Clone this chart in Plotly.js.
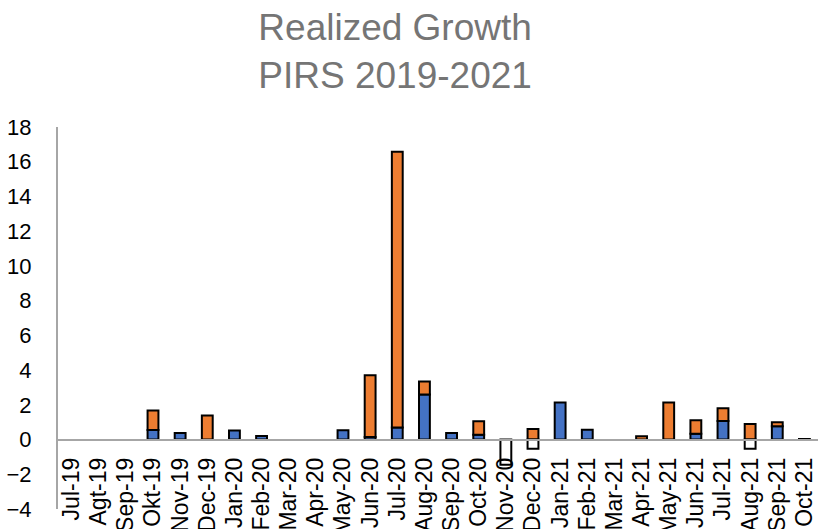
<!DOCTYPE html>
<html>
<head>
<meta charset="utf-8">
<script src="https://cdn.plot.ly/plotly-3.0.1.min.js"></script>
<style>html,body{margin:0;padding:0;background:#fff;}#chart{width:818px;height:529px;}</style>
</head>
<body>
<div id="chart"></div>
<script>
var months = ["Jul-19","Agt-19","Sep-19","Okt-19","Nov-19","Dec-19","Jan-20","Feb-20","Mar-20","Apr-20","May-20","Jun-20","Jul-20","Aug-20","Sep-20","Oct-20","Nov-20","Dec-20","Jan-21","Feb-21","Mar-21","Apr-21","May-21","Jun-21","Jul-21","Aug-21","Sep-21","Oct-21"];
var blueValues   = [null,null,null,0.55,0.38,null,0.52,0.21,null,null,0.53,0.15,0.69,2.59,0.38,0.27,null,null,2.13,0.57,null,null,null,0.33,1.07,null,0.77,0.03];
var orangeValues = [null,null,null,1.12,null,1.38,null,null,null,null,null,3.55,15.88,0.76,null,0.78,null,0.61,null,null,null,0.19,2.13,0.78,0.73,0.90,0.23,null];
var whiteValues  = [null,null,null,null,null,null,null,null,null,null,null,null,null,null,null,null,-1.45,-0.53,null,null,null,null,null,null,null,-0.53,null,null];
var yTicks = [-4,-2,0,2,4,6,8,10,12,14,16,18];

var idx = months.map(function(_, i){ return i; });
var outline = {color: "#000000", width: 2};
var traces = [
  {type: "bar", x: idx, y: blueValues, marker: {color: "#4472C4", line: outline}, hoverinfo: "y"},
  {type: "bar", x: idx, y: orangeValues, marker: {color: "#ED7D31", line: outline}, hoverinfo: "y"},
  {type: "bar", x: idx, y: whiteValues, marker: {color: "#FFFFFF", line: outline}, hoverinfo: "y"}
];
var font = "Liberation Sans, Arial, sans-serif";
var layout = {
  width: 818, height: 529,
  margin: {l: 58, r: 0, t: 127, b: 20, pad: 0},
  paper_bgcolor: "#ffffff", plot_bgcolor: "#ffffff",
  showlegend: false,
  barmode: "relative",
  bargap: 0.6,
  title: {
    text: "Realized Growth<br>PIRS 2019-2021",
    font: {family: font, size: 37, color: "#757575"},
    xref: "container", x: 0.483, xanchor: "center",
    yref: "container", y: 0.924, yanchor: "middle"
  },
  xaxis: {
    range: [-0.5, 27.5],
    tickmode: "array", tickvals: idx, ticktext: months,
    tickangle: -90,
    tickfont: {family: font, size: 23, color: "#000000"},
    showgrid: false, zeroline: false,
    showline: true, linecolor: "#A6A6A6", linewidth: 2,
    ticks: "", ticklabelstandoff: 8,
    anchor: "free", position: 4/22,
    automargin: false, fixedrange: true
  },
  yaxis: {
    range: [-4, 18],
    tickmode: "array", tickvals: yTicks,
    tickfont: {family: font, size: 22, color: "#000000"},
    showgrid: false, zeroline: false,
    showline: true, linecolor: "#A6A6A6", linewidth: 2,
    ticks: "", ticklabelstandoff: 20,
    automargin: false, fixedrange: true
  }
};
Plotly.newPlot("chart", traces, layout, {displayModeBar: false, staticPlot: true});
</script>
</body>
</html>
